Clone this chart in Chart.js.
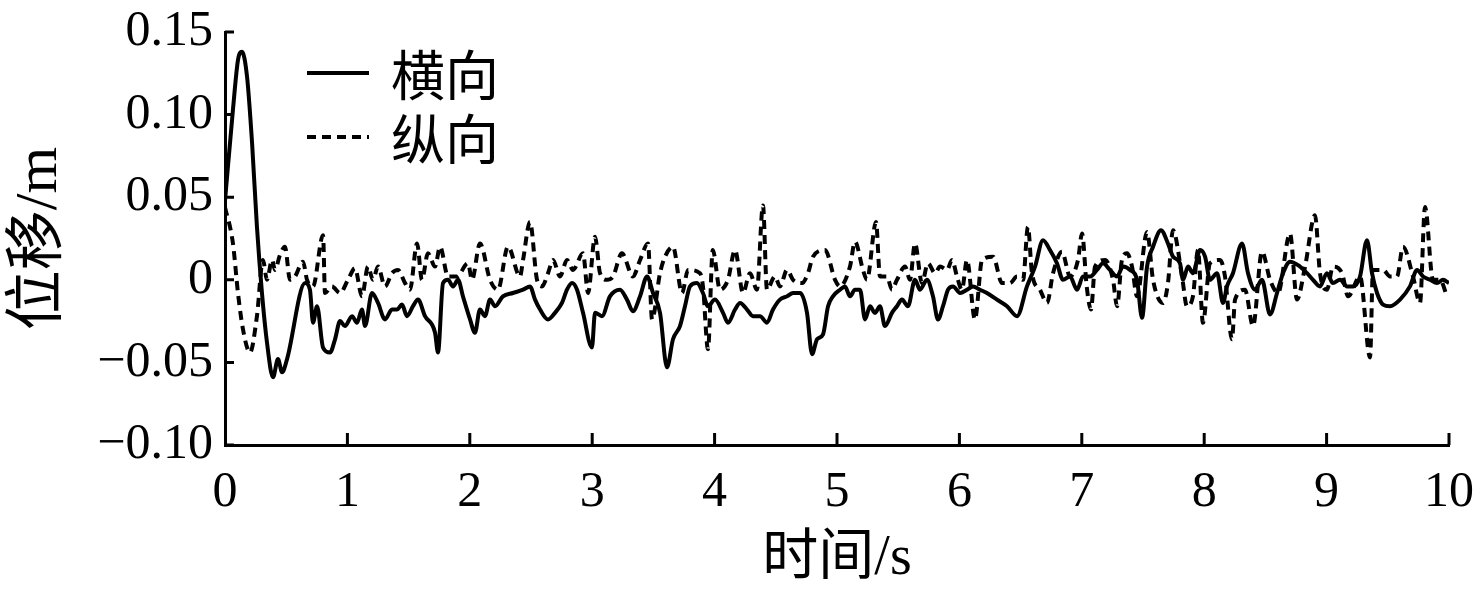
<!DOCTYPE html>
<html>
<head>
<meta charset="utf-8">
<script src="https://cdn.jsdelivr.net/npm/chart.js@4.4.0/dist/chart.umd.min.js"></script>
<style>
  body { margin: 0; background: #fff; }
  #wrap { width: 1479px; height: 594px; }
</style>
</head>
<body>
<div id="wrap"><canvas id="chart"></canvas></div>
<script>
'use strict';

// 横向 (solid) - time in s, displacement in m
var solidTime = [
    0, 0.065, 0.106, 0.139, 0.180, 0.221, 0.261, 0.302, 0.343, 0.392,
    0.433, 0.466, 0.507, 0.654, 0.694, 0.719, 0.752, 0.801, 0.858, 0.899,
    0.940, 0.980, 1.038, 1.078, 1.119, 1.144, 1.201, 1.250, 1.307, 1.364,
    1.405, 1.446, 1.487, 1.536, 1.577, 1.634, 1.716, 1.740, 1.781, 1.822,
    1.863, 1.904, 1.944, 2.002, 2.042, 2.083, 2.124, 2.165, 2.206, 2.271,
    2.353, 2.435, 2.492, 2.533, 2.574, 2.639, 2.696, 2.753, 2.794, 2.835,
    2.876, 2.925, 2.998, 3.023, 3.080, 3.145, 3.227, 3.284, 3.333, 3.391,
    3.448, 3.497, 3.554, 3.611, 3.660, 3.717, 3.758, 3.799, 3.856, 3.905,
    3.946, 4.003, 4.069, 4.109, 4.167, 4.208, 4.265, 4.314, 4.371, 4.428,
    4.477, 4.534, 4.592, 4.641, 4.698, 4.755, 4.796, 4.837, 4.886, 4.927,
    4.967, 5.025, 5.065, 5.106, 5.147, 5.188, 5.229, 5.270, 5.310, 5.351,
    5.392, 5.449, 5.490, 5.531, 5.580, 5.637, 5.678, 5.735, 5.784, 5.825,
    5.866, 5.907, 5.948, 6.005, 6.062, 6.111, 6.168, 6.225, 6.307, 6.389,
    6.471, 6.552, 6.618, 6.683, 6.740, 6.797, 6.846, 6.904, 6.961, 7.010,
    7.067, 7.124, 7.173, 7.230, 7.288, 7.337, 7.394, 7.451, 7.492, 7.533,
    7.582, 7.647, 7.704, 7.745, 7.802, 7.827, 7.868, 7.908, 7.966, 8.007,
    8.047, 8.105, 8.154, 8.186, 8.235, 8.309, 8.358, 8.415, 8.472, 8.538,
    8.595, 8.644, 8.701, 8.783, 8.840, 8.889, 8.946, 9.003, 9.052, 9.109,
    9.167, 9.216, 9.273, 9.330, 9.371, 9.412, 9.461, 9.518, 9.600, 9.681,
    9.739, 9.788, 9.845, 9.902, 9.951, 10
];
var solidDisp = [
    0.048, 0.103, 0.133, 0.138, 0.123, 0.083, 0.032, -0.008, -0.038, -0.059,
    -0.048, -0.056, -0.048, -0.002, -0.006, -0.026, -0.016, -0.041, -0.044, -0.036,
    -0.025, -0.028, -0.022, -0.026, -0.018, -0.028, -0.008, -0.014, -0.024, -0.018,
    -0.018, -0.015, -0.022, -0.016, -0.012, -0.022, -0.032, -0.044, -0.002, 0,
    -0.004, 0, -0.010, -0.024, -0.032, -0.018, -0.022, -0.012, -0.016, -0.010,
    -0.008, -0.006, -0.004, -0.012, -0.018, -0.024, -0.020, -0.014, -0.006, -0.002,
    -0.006, -0.020, -0.041, -0.020, -0.022, -0.010, -0.006, -0.012, -0.019, -0.010,
    0.002, -0.008, -0.020, -0.053, -0.036, -0.028, -0.016, -0.004, -0.002, -0.008,
    -0.016, -0.012, -0.020, -0.026, -0.018, -0.014, -0.018, -0.022, -0.022, -0.026,
    -0.018, -0.012, -0.010, -0.008, -0.008, -0.020, -0.045, -0.036, -0.033, -0.016,
    -0.010, -0.006, -0.004, -0.010, -0.006, -0.006, -0.024, -0.016, -0.020, -0.016,
    -0.028, -0.020, -0.016, -0.012, -0.016, 0, -0.006, 0, -0.010, -0.024,
    -0.016, -0.006, -0.004, -0.008, -0.006, -0.004, -0.006, -0.008, -0.012, -0.016,
    -0.022, -0.004, 0.008, 0.024, 0.018, 0.010, 0, 0.002, -0.006, 0.002,
    0.002, 0.006, 0.010, 0.006, 0.002, 0.008, 0.006, 0, -0.023, 0.008,
    0.020, 0.030, 0.022, 0.014, 0.010, 0, 0.008, 0.004, 0.018, 0.014,
    0, 0.004, -0.014, -0.004, 0.004, 0.022, 0.004, -0.006, 0, -0.021,
    -0.008, 0.004, 0.011, 0.008, 0.004, 0, -0.004, 0.004, -0.002, 0,
    -0.004, -0.004, 0.002, 0.024, 0.004, -0.008, -0.015, -0.016, -0.012, -0.004,
    0.006, 0.002, 0, -0.002, 0, -0.002
];

// 纵向 (dashed)
var dashTime = [
    0, 0.065, 0.106, 0.147, 0.204, 0.261, 0.310, 0.343, 0.384, 0.408,
    0.449, 0.490, 0.531, 0.572, 0.637, 0.670, 0.719, 0.801, 0.817, 0.874,
    0.940, 1.005, 1.062, 1.119, 1.168, 1.209, 1.250, 1.307, 1.364, 1.413,
    1.471, 1.511, 1.569, 1.609, 1.658, 1.716, 1.757, 1.822, 1.895, 1.985,
    2.018, 2.083, 2.165, 2.230, 2.312, 2.410, 2.435, 2.492, 2.549, 2.590,
    2.639, 2.680, 2.737, 2.794, 2.843, 2.925, 2.966, 3.023, 3.064, 3.121,
    3.170, 3.243, 3.333, 3.391, 3.456, 3.489, 3.554, 3.595, 3.660, 3.734,
    3.783, 3.881, 3.905, 3.946, 3.985, 4.044, 4.109, 4.167, 4.232, 4.289,
    4.346, 4.395, 4.428, 4.493, 4.534, 4.592, 4.641, 4.714, 4.763, 4.804,
    4.902, 4.984, 5.025, 5.106, 5.147, 5.212, 5.245, 5.319, 5.351, 5.408,
    5.449, 5.490, 5.556, 5.596, 5.637, 5.694, 5.743, 5.801, 5.842, 5.899,
    5.940, 5.980, 6.021, 6.062, 6.127, 6.185, 6.275, 6.348, 6.413, 6.471,
    6.520, 6.560, 6.593, 6.658, 6.716, 6.765, 6.838, 6.904, 6.969, 7.002,
    7.040, 7.075, 7.108, 7.190, 7.255, 7.288, 7.328, 7.369, 7.410, 7.451,
    7.533, 7.582, 7.663, 7.704, 7.745, 7.819, 7.859, 7.908, 7.949, 7.990,
    8.047, 8.129, 8.170, 8.227, 8.252, 8.333, 8.399, 8.472, 8.538, 8.603,
    8.701, 8.758, 8.824, 8.905, 8.946, 9.003, 9.052, 9.126, 9.175, 9.273,
    9.355, 9.379, 9.461, 9.518, 9.575, 9.624, 9.706, 9.763, 9.804, 9.869,
    9.926, 9.984
];
var dashDisp = [
    0.044, 0.022, -0.008, -0.030, -0.044, -0.022, 0.012, 0, 0.012, 0.006,
    0.015, 0.020, 0, 0.002, 0.011, 0, -0.004, 0.027, -0.008, -0.004,
    -0.008, 0, 0.007, -0.010, 0.008, 0, 0.008, -0.004, 0.004, 0.006,
    -0.002, -0.006, 0.022, 0, 0.016, 0.008, 0.020, 0.002, 0.002, 0.010,
    0, 0.022, 0, -0.006, 0.020, 0.002, 0.012, 0.035, 0, -0.004,
    0.004, 0.012, 0.002, 0.012, 0.006, 0.016, -0.008, 0.026, 0.004, 0,
    0.002, 0.016, 0.002, 0.012, 0.022, -0.024, 0.004, 0.014, 0.020, -0.008,
    0.006, 0.004, -0.004, -0.042, 0.018, -0.006, 0, 0.018, -0.008, 0.004,
    -0.006, 0.045, -0.006, 0.002, -0.004, 0.006, 0, -0.002, 0.004, 0.014,
    0.018, 0, -0.004, 0.008, 0.023, 0.006, 0, 0.035, 0.002, 0.002,
    -0.006, 0, 0.008, 0, 0.022, -0.002, 0.010, 0.004, 0.008, 0.006,
    0.012, 0.002, -0.006, 0.012, -0.024, 0.012, 0.014, -0.002, -0.002, 0.002,
    0, 0.032, 0.004, -0.006, -0.014, 0.004, 0.017, 0.002, 0.012, 0.028,
    -0.004, -0.018, 0.008, 0.012, 0, -0.016, 0.012, 0.016, 0.008, -0.010,
    0.029, 0, -0.014, -0.002, 0.030, 0.002, -0.016, -0.010, 0.018, -0.026,
    0.010, 0.012, 0.002, -0.036, -0.012, -0.006, -0.028, 0.017, 0, -0.008,
    0.028, -0.012, 0.008, 0.039, 0.004, -0.006, 0.008, 0.004, -0.010, 0.002,
    -0.047, 0.006, 0.006, 0.002, 0.002, 0.020, 0.002, -0.014, 0.044, 0,
    0, -0.010
];

var xTickValues = [0, 1, 2, 3, 4, 5, 6, 7, 8, 9, 10];
var xTickLabels = ['0', '1', '2', '3', '4', '5', '6', '7', '8', '9', '10'];
var yTickValues = [-0.10, -0.05, 0, 0.05, 0.10, 0.15];
var yTickLabels = ['\u22120.10', '\u22120.05', '0', '0.05', '0.10', '0.15'];

var serif = '"Liberation Serif", "Times New Roman", serif';
var cjk = '"Liberation Serif", "Noto Sans CJK SC", serif';

function toPoints(xs, ys) {
    return xs.map(function (x, i) { return {x: x, y: ys[i]}; });
}

// tick marks point into the plot, so they are drawn here
var innerTicks = {
    id: 'innerTicks',
    afterDatasetsDraw: function (chart) {
        var ctx = chart.ctx;
        var a = chart.chartArea;
        var xs = chart.scales.x;
        var ys = chart.scales.y;
        ctx.save();
        ctx.strokeStyle = '#000';
        ctx.lineWidth = 3;
        ctx.beginPath();
        yTickValues.forEach(function (v) {
            var y = ys.getPixelForValue(v);
            ctx.moveTo(a.left, y);
            ctx.lineTo(a.left + 9, y);
        });
        xTickValues.forEach(function (v) {
            if (v === 0) { return; }
            var x = xs.getPixelForValue(v);
            ctx.moveTo(x, a.bottom);
            ctx.lineTo(x, a.bottom - 12);
        });
        ctx.stroke();
        ctx.restore();
    }
};

var innerLegend = {
    id: 'innerLegend',
    afterDraw: function (chart) {
        var ctx = chart.ctx;
        var a = chart.chartArea;
        chart.data.datasets.forEach(function (ds, i) {
            var x = a.left + 82;
            var y = a.top + 41 + i * 64;
            ctx.save();
            ctx.strokeStyle = ds.borderColor;
            ctx.lineWidth = ds.borderWidth;
            ctx.setLineDash(ds.borderDash || []);
            ctx.beginPath();
            ctx.moveTo(x, y);
            ctx.lineTo(x + 62, y);
            ctx.stroke();
            ctx.setLineDash([]);
            ctx.fillStyle = '#000';
            ctx.font = '54px "Noto Sans CJK SC"';
            ctx.textBaseline = 'middle';
            ctx.fillText(ds.label, x + 84, y + 2);
            ctx.restore();
        });
    }
};

var ctx = document.getElementById('chart').getContext('2d');
var chart = new Chart(ctx, {
    type: 'line',
    data: {
        datasets: [{
            label: '横向',
            data: toPoints(solidTime, solidDisp),
            borderColor: '#000',
            borderWidth: 4,
            pointRadius: 0,
            cubicInterpolationMode: 'monotone',
            fill: false
        }, {
            label: '纵向',
            data: toPoints(dashTime, dashDisp),
            borderColor: '#000',
            borderWidth: 4,
            borderDash: [9, 6],
            pointRadius: 0,
            cubicInterpolationMode: 'monotone',
            fill: false
        }]
    },
    options: {
        responsive: true,
        maintainAspectRatio: false,
        animation: false,
        layout: {padding: {top: 32, right: 30, left: 0, bottom: 0}},
        plugins: {
            legend: {display: false},
            tooltip: {enabled: false}
        },
        scales: {
            x: {
                type: 'linear',
                min: 0,
                max: 10,
                afterBuildTicks: function (s) {
                    s.ticks = xTickValues.map(function (v) { return {value: v}; });
                },
                afterFit: function (s) {
                    s.height = 149;
                    s.paddingLeft = 0;
                    s.paddingRight = 0;
                },
                grid: {display: false, drawTicks: false},
                border: {display: true, color: '#000', width: 3},
                ticks: {
                    callback: function (v, i) { return xTickLabels[i]; },
                    font: {family: serif, size: 50},
                    color: '#000',
                    padding: 18,
                    maxRotation: 0,
                    autoSkip: false
                },
                title: {
                    display: true,
                    text: '时间/s',
                    font: {family: cjk, size: 56},
                    color: '#000',
                    padding: {top: 0, bottom: 1}
                }
            },
            y: {
                min: -0.1,
                max: 0.15,
                afterBuildTicks: function (s) {
                    s.ticks = yTickValues.map(function (v) { return {value: v}; });
                },
                afterFit: function (s) {
                    s.width = 225;
                    s.paddingTop = 0;
                    s.paddingBottom = 0;
                },
                grid: {display: false, drawTicks: false},
                border: {display: true, color: '#000', width: 3},
                ticks: {
                    callback: function (v, i) { return yTickLabels[i]; },
                    font: {family: serif, size: 50},
                    color: '#000',
                    padding: 12,
                    autoSkip: false
                },
                title: {
                    display: true,
                    text: '位移/m',
                    font: {family: cjk, size: 60},
                    color: '#000',
                    padding: {top: 4, bottom: 0}
                }
            }
        }
    },
    plugins: [innerTicks, innerLegend]
});
</script>
</body>
</html>
